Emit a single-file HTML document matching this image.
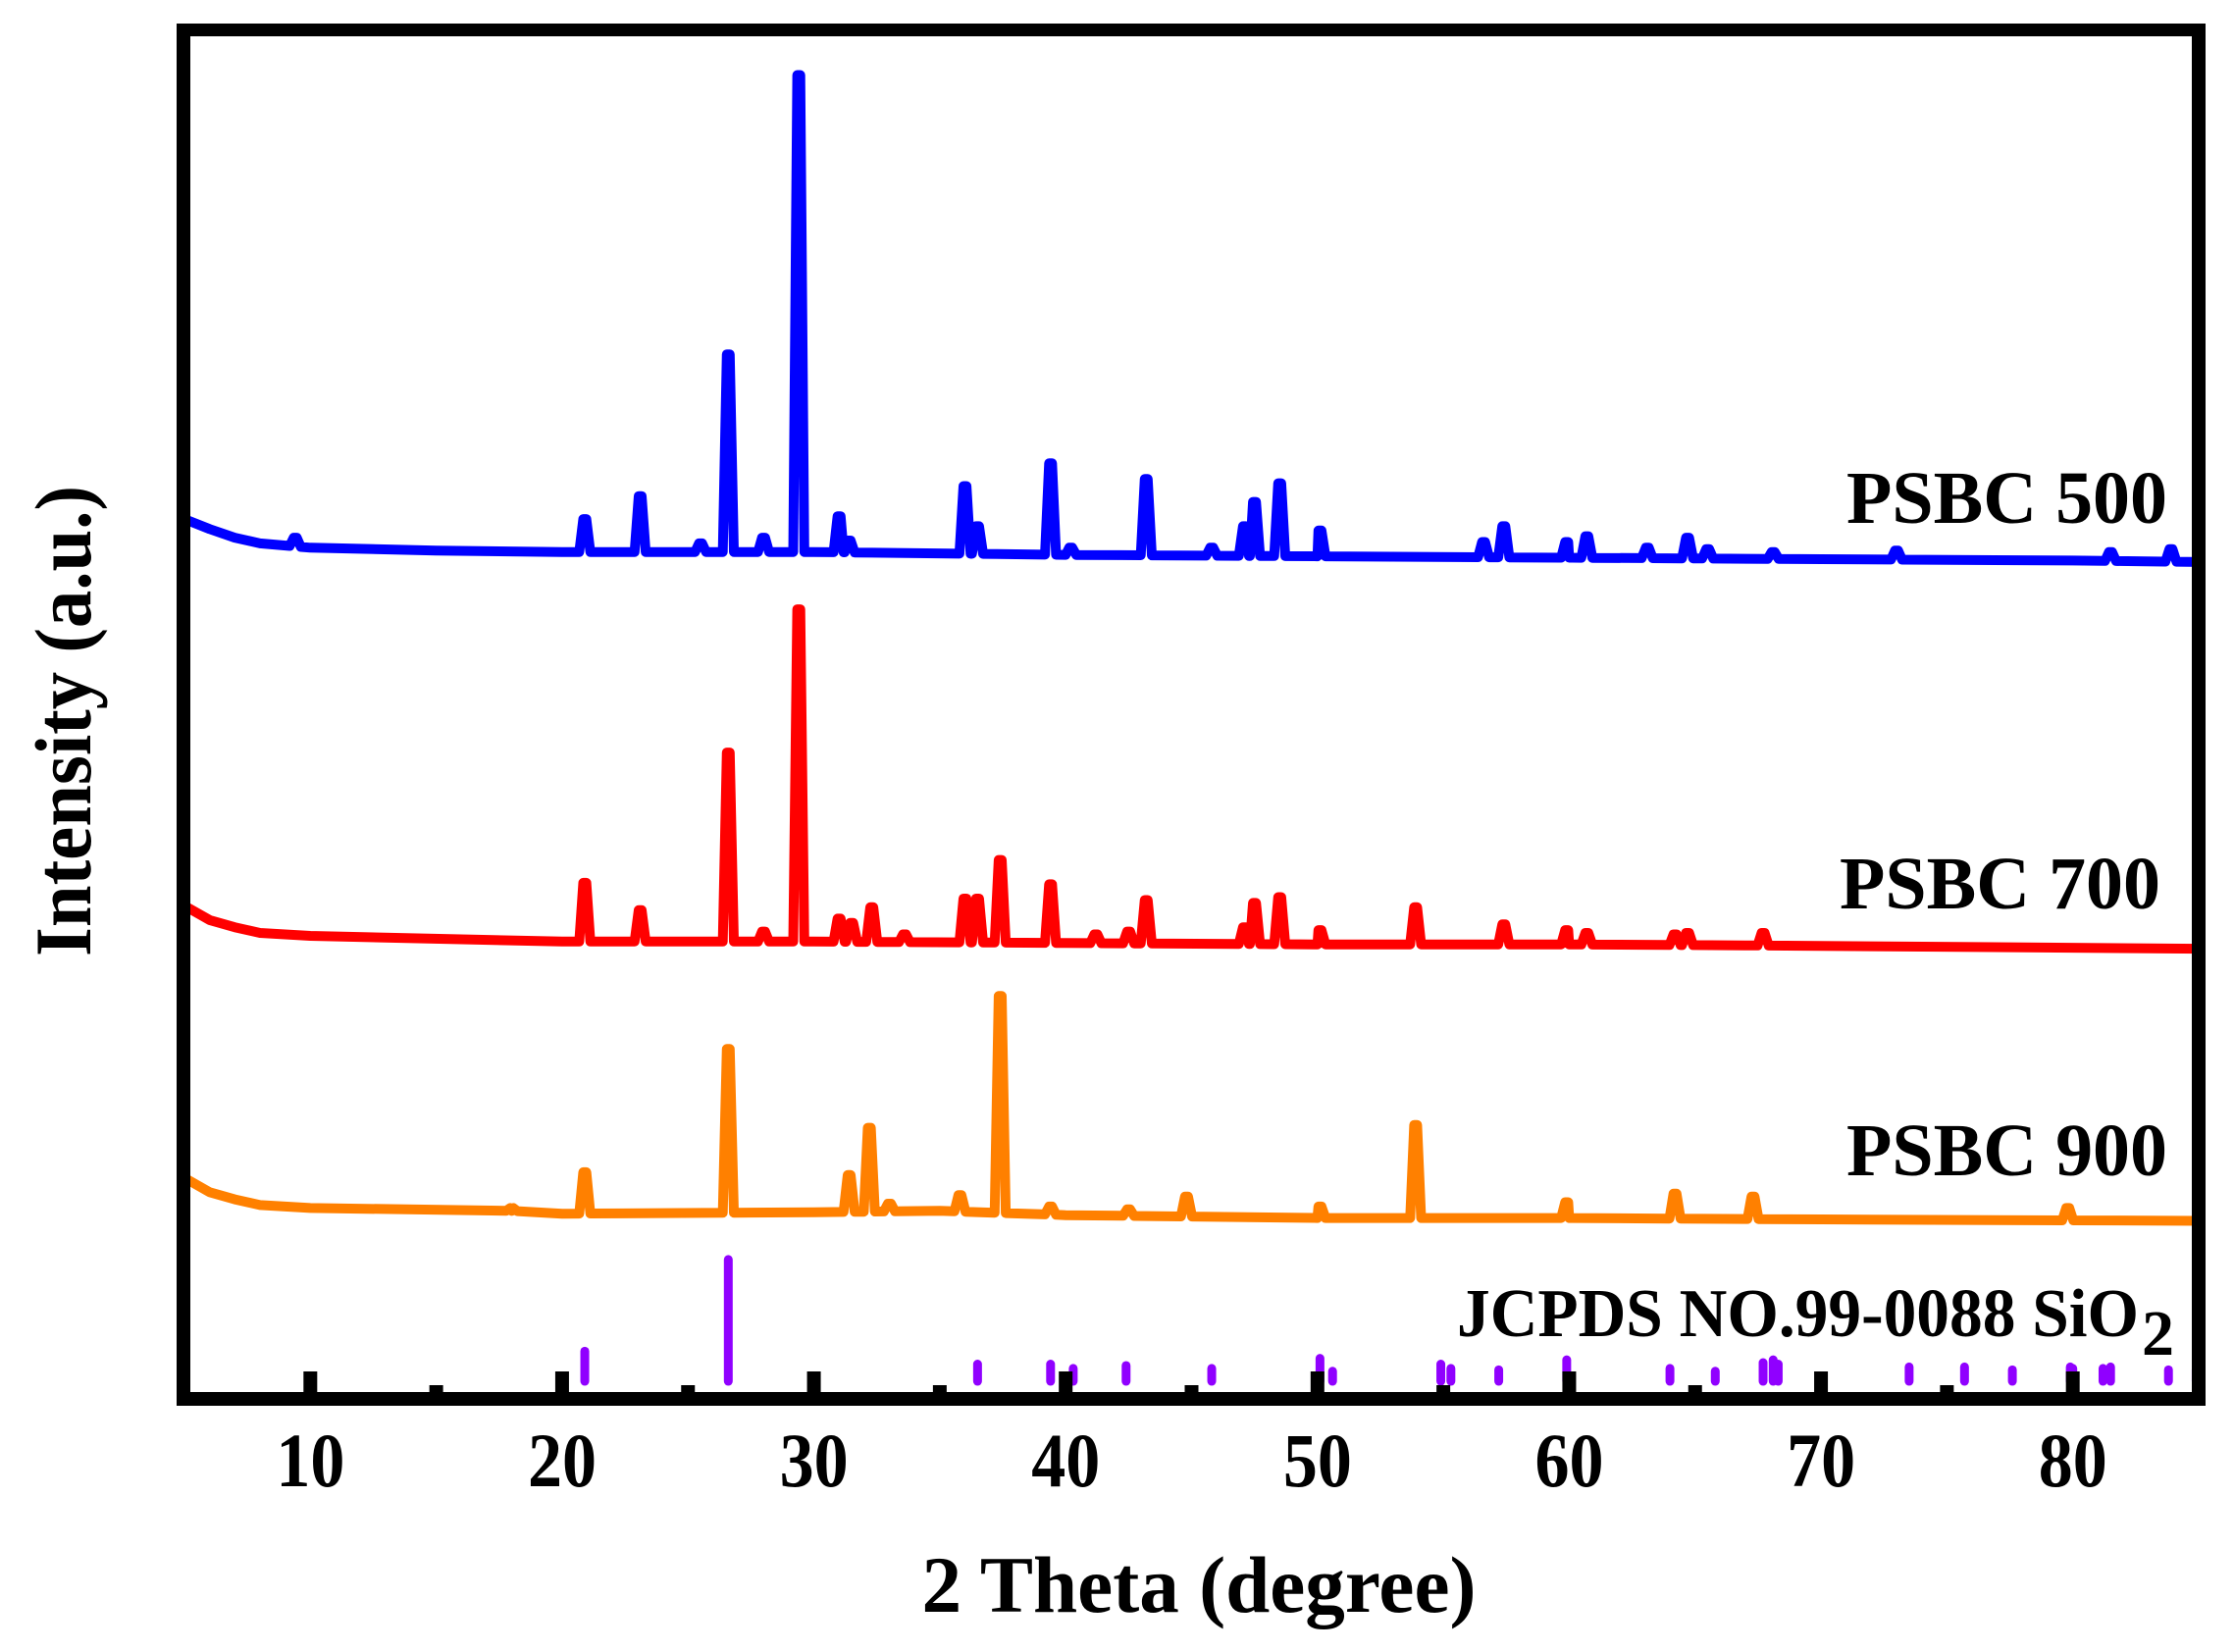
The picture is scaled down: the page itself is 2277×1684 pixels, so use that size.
<!DOCTYPE html>
<html><head><meta charset="utf-8"><style>
html,body{margin:0;padding:0;background:#fff;}
svg{display:block;}
text{font-family:"Liberation Serif",serif;font-weight:bold;fill:#000;}
</style></head>
<body>
<svg id="chart" width="2277" height="1684" viewBox="0 0 2277 1684" xmlns="http://www.w3.org/2000/svg">
<g id="series"></g>
<g id="sticks"></g>
<g id="axes"></g>
<text x="2209" y="533" font-size="76" text-anchor="end" textLength="327" lengthAdjust="spacingAndGlyphs">PSBC 500</text>
<text x="2202" y="926" font-size="76" text-anchor="end" textLength="327" lengthAdjust="spacingAndGlyphs">PSBC 700</text>
<text x="2209" y="1198" font-size="76" text-anchor="end" textLength="327" lengthAdjust="spacingAndGlyphs">PSBC 900</text>
<text x="1485" y="1362" font-size="70" textLength="695" lengthAdjust="spacingAndGlyphs">JCPDS NO.99-0088 SiO</text>
<text x="2183" y="1381" font-size="66">2</text>
<text x="1222" y="1643" font-size="82" text-anchor="middle" textLength="565" lengthAdjust="spacingAndGlyphs">2 Theta (degree)</text>
<text transform="translate(92,735) rotate(-90)" font-size="82" text-anchor="middle" textLength="480" lengthAdjust="spacingAndGlyphs">Intensity (a.u.)</text>
</svg>
<script>
// ---- data (intensity in a.u., 0 = bottom axis) ----
const xTicks = [10,20,30,40,50,60,70,80];
const xMinorTicks = [15,25,35,45,55,65,75];

const blueBaseX = [5,6,7,8,10,15,20,25,30,40,50,60,70,80,85];
const blueBaseY = [615,608,602,598,595,593,592,592,592,590,589,588,587,586,585];
const bluePeakX = [9.4,20.9,23.1,25.5,26.6,28.0,29.4,31.0,31.4,36.0,36.5,39.4,40.2,43.2,45.8,47.1,47.5,48.5,50.1,56.6,57.4,59.9,60.7,63.1,64.7,65.5,68.1,73.0,81.5,83.9];
const bluePeakY = [602,615,631,598,730,602,925,617,600,638,610,654,595,643,595,610,627,640,607,599,610,599,603,595,602,594,592,593,592,594];

const redBaseX = [5,6,7,8,10,20,30,40,50,60,70,85];
const redBaseY = [345,335,330,326,324,320,320,319,318,318,317,315];
const redPeakX = [20.9,23.1,26.6,28.0,29.4,31.0,31.5,32.3,33.6,36.0,36.5,37.4,39.4,41.2,42.5,43.2,47.1,47.5,48.5,50.1,53.9,57.4,59.9,60.7,64.2,64.7,67.7];
const redPeakY = [361,342,452,327,552,336,333,344,325,350,350,377,360,325,327,349,330,347,351,328,344,332,328,326,325,326,326];

const orangeBaseX = [5,6,7,8,10,18,20,30,35,40,50,60,70,85];
const orangeBaseY = [155,145,140,136,134,132,130,131,132,129,127,127,126,125];
const orangePeakX = [18.0,20.9,26.6,31.4,32.2,33.0,35.8,37.4,39.4,42.5,44.8,50.1,53.9,59.9,64.2,67.3,79.8];
const orangePeakY = [134,159,245,157,190,137,143,282,135,133,142,135,192,138,144,142,134];

const stickX = [20.9,26.6,36.5,39.4,40.3,42.4,45.8,50.1,50.6,54.9,55.3,57.2,59.9,64.0,65.8,67.7,68.1,68.3,73.5,75.7,77.6,79.9,80.0,81.2,81.5,83.8,84.9];
const stickH = [24,88,15,15,12,14,12,19,10,15,12,11,18,12,10,16,18,15,13,13,11,13,12,12,13,11,11];

// ---- scales ----
const X0=5, X1=85, PX0=188, PX1=2241;
const axisY=1427, yPerUnit=1.46;
const xs = v => PX0 + (v-X0)/(X1-X0)*(PX1-PX0);
const ys = v => axisY - v*yPerUnit;
const NS="http://www.w3.org/2000/svg";

function baseAt(bx,by,x){
  for(let i=0;i<bx.length-1;i++){
    if(x>=bx[i]&&x<=bx[i+1]){const t=(x-bx[i])/(bx[i+1]-bx[i]);return by[i]+t*(by[i+1]-by[i]);}
  }
  return by[by.length-1];
}
function buildPts(bx,by,px,py){
  const hw=0.22;
  let pts=[];
  bx.forEach((x,i)=>pts.push([x,by[i]]));
  px.forEach((x,i)=>{
    pts.push([x-hw,baseAt(bx,by,x-hw)]);
    pts.push([x-0.06,py[i]]);
    pts.push([x+0.06,py[i]]);
    pts.push([x+hw,baseAt(bx,by,x+hw)]);
  });
  pts.sort((a,b)=>a[0]-b[0]);
  return pts;
}
const sg=document.getElementById('series');
[['series-psbc-500','#0000ff',blueBaseX,blueBaseY,bluePeakX,bluePeakY],
 ['series-psbc-700','#ff0000',redBaseX,redBaseY,redPeakX,redPeakY],
 ['series-psbc-900','#ff8000',orangeBaseX,orangeBaseY,orangePeakX,orangePeakY]].forEach(s=>{
  const pts=buildPts(s[2],s[3],s[4],s[5]);
  const p=document.createElementNS(NS,'path');
  
  
  p.setAttribute('d','M'+pts.map(q=>xs(q[0]).toFixed(1)+','+ys(q[1]).toFixed(1)).join('L'));
  p.setAttribute('fill','none');p.setAttribute('stroke',s[1]);
  p.setAttribute('stroke-width','10');p.setAttribute('stroke-linejoin','round');
  sg.appendChild(p);
});
const stg=document.getElementById('sticks');
stickX.forEach((x,i)=>{
  const l=document.createElementNS(NS,'line');
  
  
  l.setAttribute('x1',xs(x));l.setAttribute('x2',xs(x));
  l.setAttribute('y1',ys(13));l.setAttribute('y2',ys(10+stickH[i]));
  l.setAttribute('stroke','#9000ff');l.setAttribute('stroke-width','9');l.setAttribute('stroke-linecap','round');
  stg.appendChild(l);
});
const ag=document.getElementById('axes');
function rect(name,x,y,w,h){
  const r=document.createElementNS(NS,'rect');
  
  
  r.setAttribute('x',x);r.setAttribute('y',y);r.setAttribute('width',w);r.setAttribute('height',h);r.setAttribute('fill','#000');
  ag.appendChild(r);
}
rect('frame-top',180,24,2068,13);
rect('frame-left',180,24,14,1409);
rect('frame-right',2234,24,14,1409);
rect('x-axis-line',180,1419,2068,14);
xTicks.forEach(v=>{
  rect('x-major-tick',xs(v)-7,1398,14,22);
  const t=document.createElementNS(NS,'text');
  
  
  t.setAttribute('x',xs(v)-35);t.setAttribute('y',1515);t.setAttribute('font-size','78');
  t.setAttribute('textLength','70');t.setAttribute('lengthAdjust','spacingAndGlyphs');
  t.textContent=v;ag.appendChild(t);
});
xMinorTicks.forEach(v=>{rect('x-minor-tick',xs(v)-7,1412,14,8);});
</script>
</body></html>
